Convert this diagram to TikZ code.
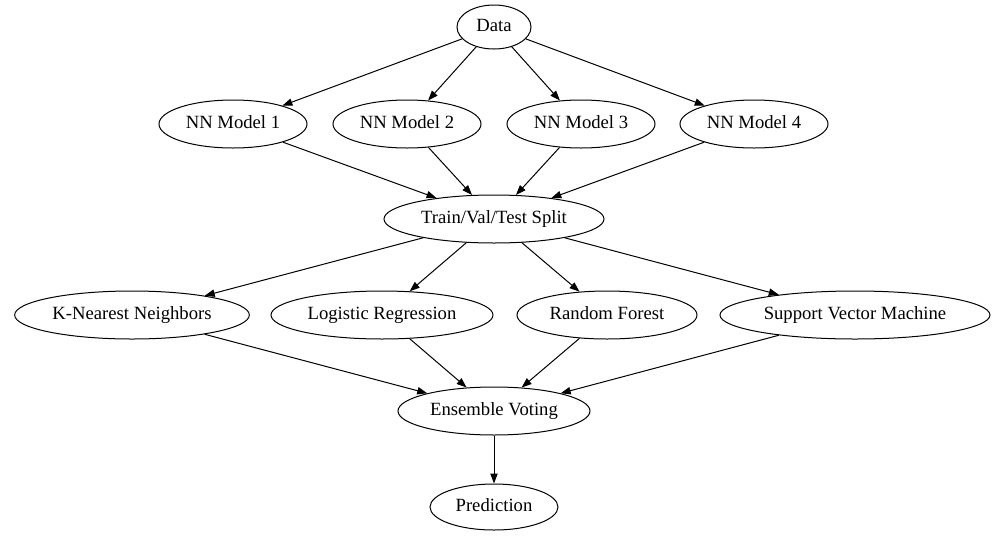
\documentclass[tikz,border=0pt]{standalone}
\usepackage{fontspec}
\setmainfont{Liberation Serif}
\usetikzlibrary{arrows.meta,shapes.geometric}
\tikzset{
  blob/.style={ellipse, draw, line width=0.75pt, inner sep=0pt, minimum height=36pt,
    text height=9.5pt, text depth=3pt, font=\fontsize{14}{16}\selectfont},
  link/.style={-{Triangle[length=7.5pt,width=5.5pt]}, line width=0.75pt}
}
\begin{document}
\begin{tikzpicture}[x=0.75pt,y=-0.75pt]
  %%%%% rows %%%%%
  \def\rowa{27}
  \def\rowb{124}
  \def\rowc{219}
  \def\rowd{315}
  \def\rowe{411}
  \def\rowf{507}
  \useasboundingbox (0,0) rectangle (1008,540);

  \node[blob, minimum width=55.5pt, minimum height=33pt] (data) at (494,\rowa) {Data};

  \node[blob, minimum width=111pt] (nna) at (233,\rowb) {NN Model 1};
  \node[blob, minimum width=111pt] (nnb) at (407,\rowb) {NN Model 2};
  \node[blob, minimum width=111pt] (nnc) at (581,\rowb) {NN Model 3};
  \node[blob, minimum width=111pt] (nnd) at (754,\rowb) {NN Model 4};

  \node[blob, minimum width=165pt] (split) at (494,\rowc) {Train/Val/Test Split};

  \node[blob, minimum width=176pt] (knn) at (132,\rowd) {K-Nearest Neighbors};
  \node[blob, minimum width=166.5pt] (logreg) at (382,\rowd) {Logistic Regression};
  \node[blob, minimum width=135pt] (forest) at (607,\rowd) {Random Forest};
  \node[blob, minimum width=202.5pt] (svm) at (855,\rowd) {Support Vector Machine};

  \node[blob, minimum width=144pt] (vote) at (494,\rowe) {Ensemble Voting};
  \node[blob, minimum width=96pt, minimum height=34.5pt] (pred) at (494,\rowf) {Prediction};

  %first layer
  \foreach \m in {nna,nnb,nnc,nnd} {
    \draw[link] (data) -- (\m);
    \draw[link] (\m) -- (split);
  }
  %second layer
  \foreach \c in {knn,logreg,forest,svm} {
    \draw[link] (split) -- (\c);
    \draw[link] (\c) -- (vote);
  }
  \draw[link] (vote) -- (pred);
\end{tikzpicture}
\end{document}
